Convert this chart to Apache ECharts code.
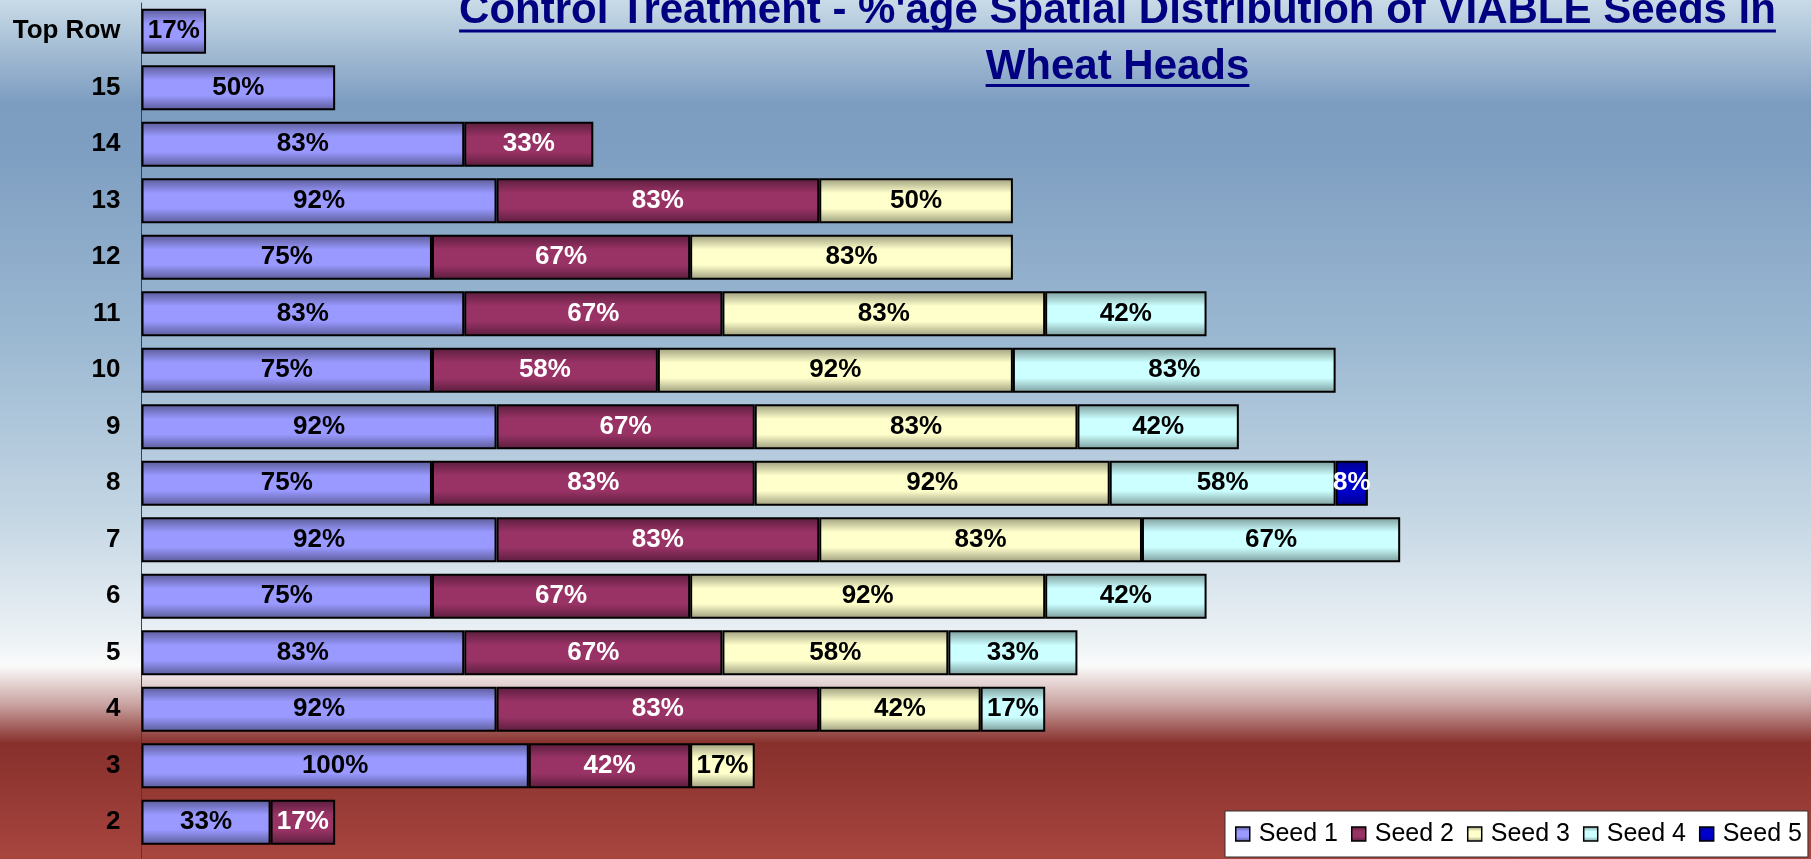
<!DOCTYPE html>
<html><head><meta charset="utf-8">
<script src="https://cdn.jsdelivr.net/npm/echarts@6/dist/echarts.min.js"></script>
<style>html,body{margin:0;padding:0;overflow:hidden;background:#fff}#c{width:1811px;height:859px}</style>
</head><body><div id="c"></div>
<script>
const categories = ['2','3','4','5','6','7','8','9','10','11','12','13','14','15','Top Row'];
const seed1 = [33.33,100,91.67,83.33,75,91.67,75,91.67,75,83.33,75,91.67,83.33,50,16.67];
const seed2 = [16.67,41.67,83.33,66.67,66.67,83.33,83.33,66.67,58.33,66.67,66.67,83.33,33.33,null,null];
const seed3 = [null,16.67,41.67,58.33,91.67,83.33,91.67,83.33,91.67,83.33,83.33,50,null,null,null];
const seed4 = [null,null,16.67,33.33,41.67,66.67,58.33,41.67,83.33,41.67,null,null,null,null,null];
const seed5 = [null,null,null,null,null,null,8.33,null,null,null,null,null,null,null,null];
const seriesNames = ['Seed 1','Seed 2','Seed 3','Seed 4','Seed 5'];
const titleLines = ["Control Treatment - %'age Spatial Distribution of VIABLE Seeds in", 'Wheat Heads'];

const seriesData = [seed1, seed2, seed3, seed4, seed5];
const baseColors = ['#9999ff','#993366','#ffffcc','#ccffff','#0000cc'];
const edgeColors = ['#5a5a96','#5a1d3c','#9c9c7c','#7a9a9a','#000090'];
const labelColors = ['#000','#fff','#000','#000','#fff'];
const FONT = '"Liberation Sans", Arial, sans-serif';

function grad(base, edge){
  return {type:'linear', x:0, y:0, x2:0, y2:1, colorStops:[
    {offset:0, color:edge},{offset:0.33, color:base},{offset:0.67, color:base},{offset:1, color:edge}]};
}

const mctx = document.createElement('canvas').getContext('2d');
mctx.font = 'bold 42px "Liberation Sans"';
const titleCx = 1117.5;
const w1 = mctx.measureText(titleLines[0]).width;
const w2 = mctx.measureText(titleLines[1]).width;

const chart = echarts.init(document.getElementById('c'));
chart.setOption({
  animation:false,
  textStyle:{fontFamily:FONT},
  graphic:[
    {type:'rect', z:-100, silent:true, shape:{x:0,y:0,width:1811,height:859},
     style:{fill:{type:'linear',x:0,y:0,x2:0,y2:1,colorStops:[
       {offset:0, color:'#c9dbe7'},
       {offset:0.12, color:'#7c9cc0'},
       {offset:0.18, color:'#7f9fc2'},
       {offset:0.4, color:'#9cb9d2'},
       {offset:0.6, color:'#c4d6e4'},
       {offset:0.75, color:'#eef3f6'},
       {offset:0.775, color:'#fbfbfb'},
       {offset:0.82, color:'#c9a3a1'},
       {offset:0.865, color:'#87302c'},
       {offset:1, color:'#a8453f'}]}}},
    {type:'line', z:10, silent:true, shape:{x1:141.5, y1:845, x2:141.5, y2:859}, style:{stroke:'#404040', lineWidth:1}},
    {type:'text', z:100, style:{text:titleLines[0], x:titleCx, y:11.5, font:'bold 42px "Liberation Sans"', fill:'#000080', textAlign:'center', textVerticalAlign:'middle', align:'center', verticalAlign:'middle'}},
    {type:'text', z:100, style:{text:titleLines[1], x:titleCx, y:67, font:'bold 42px "Liberation Sans"', fill:'#000080', textAlign:'center', textVerticalAlign:'middle', align:'center', verticalAlign:'middle'}},
    {type:'rect', z:100, shape:{x:titleCx-w1/2, y:29.5, width:w1, height:3}, style:{fill:'#000080'}},
    {type:'rect', z:100, shape:{x:titleCx-w2/2, y:84, width:w2, height:3}, style:{fill:'#000080'}}
  ],
  legend:{
    data:seriesNames, left:1225, top:811, orient:'horizontal', width:600,
    padding:[9,6,9,10], backgroundColor:'#fff', borderColor:'#333', borderWidth:1,
    itemWidth:14, itemHeight:14, itemGap:13, icon:'rect',
    itemStyle:{borderColor:'#000', borderWidth:1.5},
    textStyle:{fontSize:25, color:'#000', fontFamily:FONT, lineHeight:28, padding:[0,0,0,4]}
  },
  grid:{left:141.5, top:3, width:1355.5, height:847.5, containLabel:false},
  xAxis:{type:'value', min:0, max:350, show:false},
  yAxis:{type:'category', data:categories,
    axisLine:{show:true, lineStyle:{color:'#404040', width:1}},
    axisTick:{show:false}, splitLine:{show:false},
    axisLabel:{fontSize:26, fontWeight:'bold', color:'#000', margin:21, fontFamily:FONT}},
  series: seriesNames.map((n,i)=>({
    name:n, type:'bar', stack:'s', data:seriesData[i], barWidth:45,
    itemStyle:{color:grad(baseColors[i], edgeColors[i]), borderColor:'#000', borderWidth:2},
    label:{show:true, position:'inside', fontSize:26, fontWeight:'bold', color:labelColors[i], fontFamily:FONT,
      formatter:p=>Math.round(p.value)+'%'}
  }))
});
</script></body></html>
